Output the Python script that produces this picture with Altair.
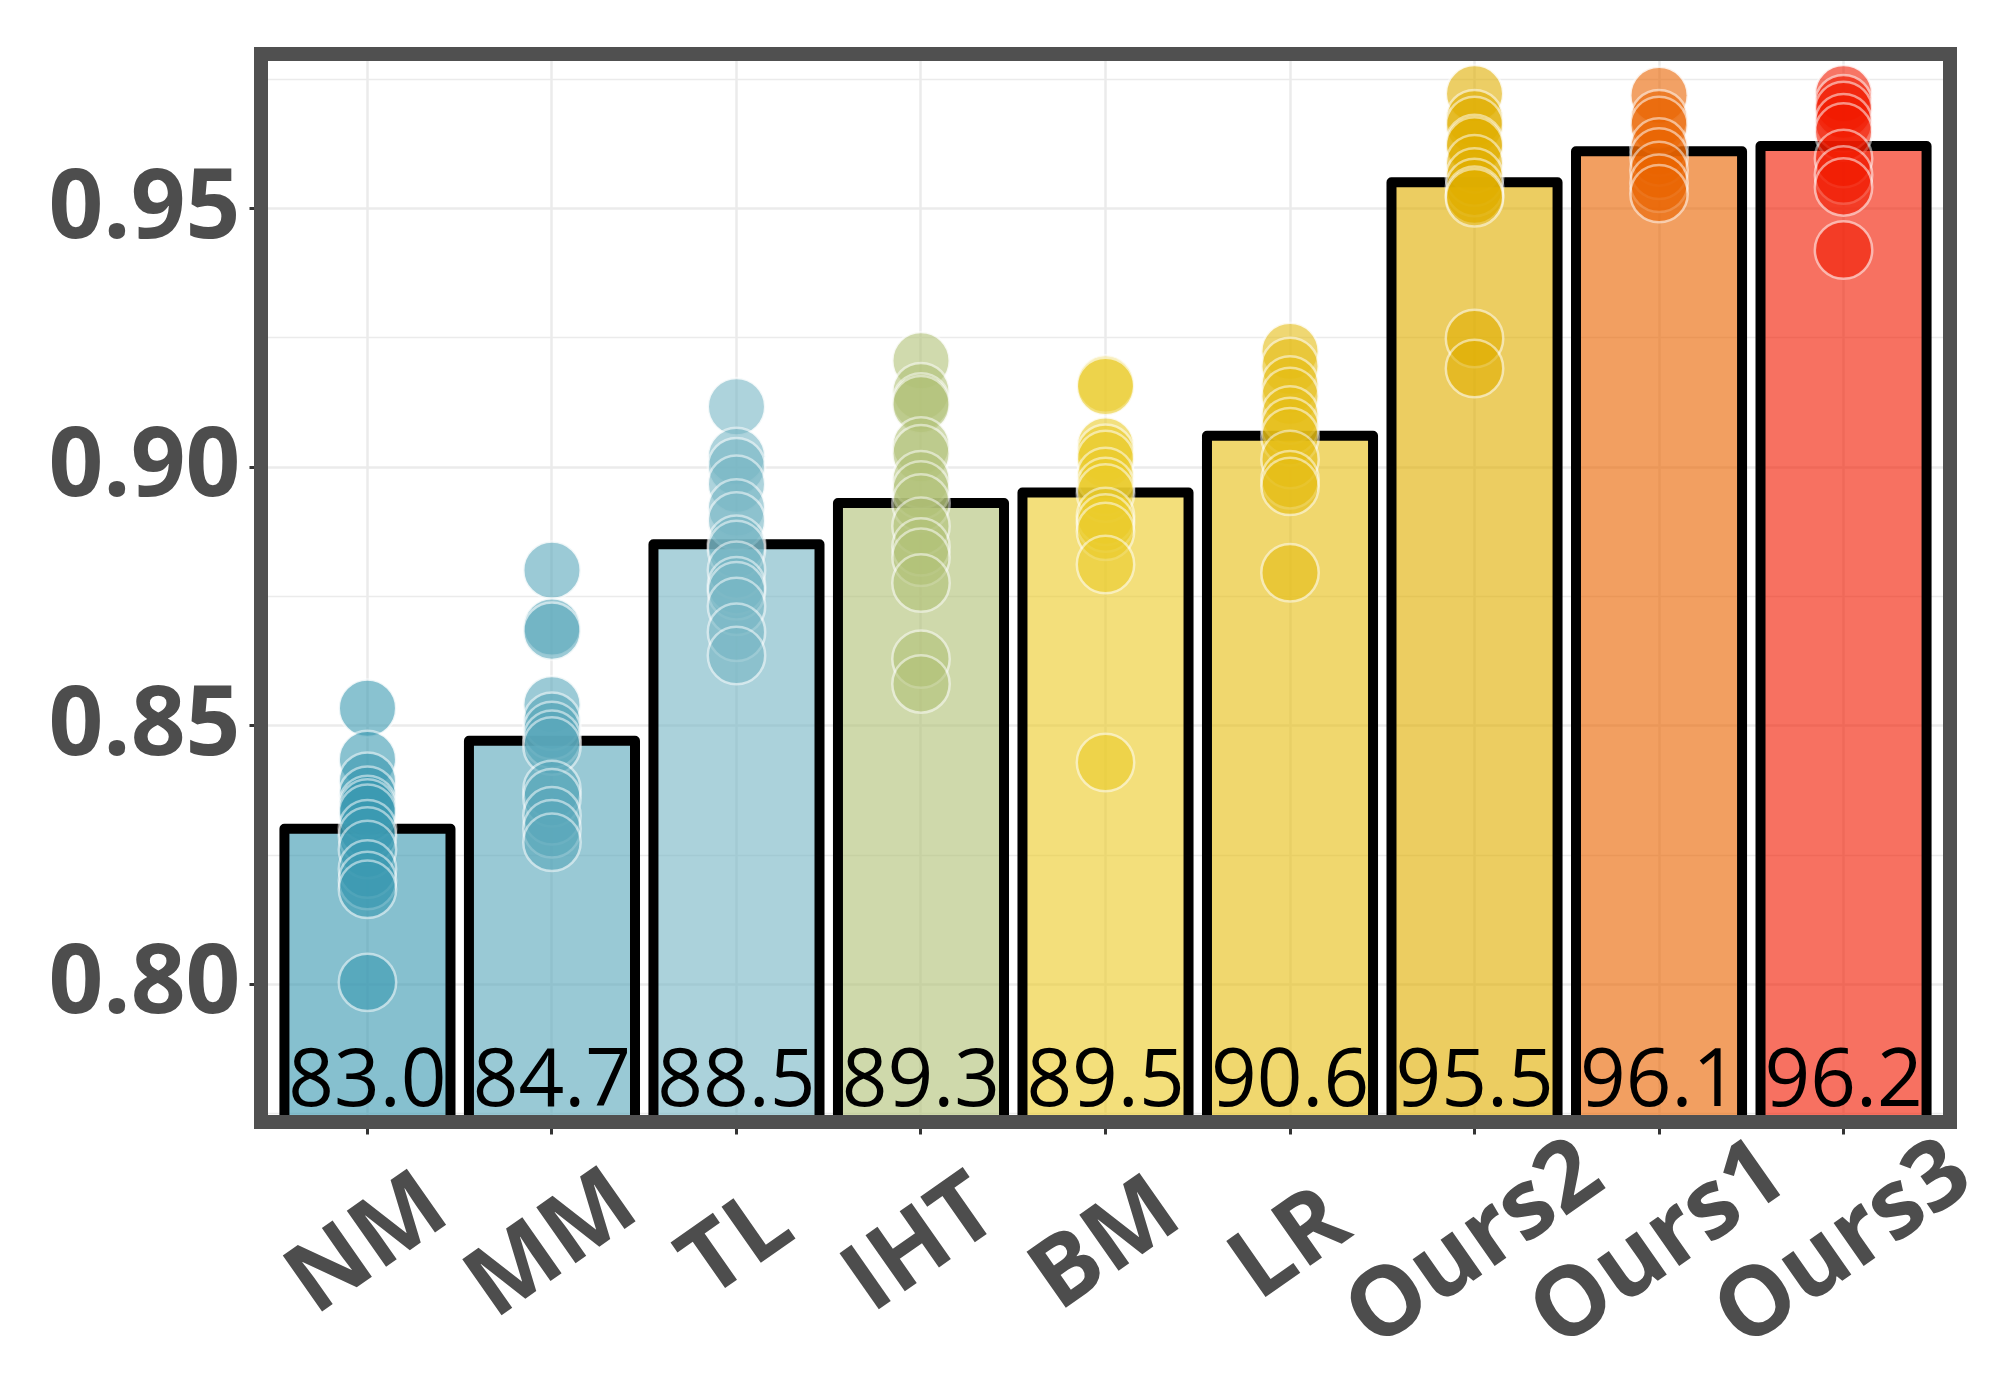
import altair as alt
import pandas as pd

methods = ["NM", "MM", "TL", "IHT", "BM", "LR", "Ours2", "Ours1", "Ours3"]
means = [83.0, 84.7, 88.5, 89.3, 89.5, 90.6, 95.5, 96.1, 96.2]
colors = ["#3B9AB2", "#5AA8BB", "#78B7C5", "#B2C278", "#EBCC2A",
          "#E6BE15", "#E1AF00", "#EA6400", "#F21A00"]

pts_NM = [0.8533, 0.8434, 0.8392, 0.8365, 0.8347, 0.8340, 0.8330, 0.8300,
          0.8286, 0.8260, 0.8222, 0.8200, 0.8183, 0.8003]
pts_MM = [0.8800, 0.8690, 0.8682, 0.8540, 0.8508, 0.8490, 0.8473, 0.8460,
          0.8376, 0.8360, 0.8325, 0.8300, 0.8274]
pts_TL = [0.9116, 0.9020, 0.9000, 0.8966, 0.8920, 0.8895, 0.8850, 0.8840,
          0.8800, 0.8770, 0.8760, 0.8730, 0.8680, 0.8635]
pts_IHT = [0.9205, 0.9145, 0.9125, 0.9120, 0.9040, 0.9025, 0.8975, 0.8955,
           0.8930, 0.8885, 0.8845, 0.8825, 0.8775, 0.8628, 0.8580]
pts_BM = [0.9160, 0.9155, 0.9040, 0.9026, 0.9014, 0.8981, 0.8962, 0.8949,
          0.8904, 0.8891, 0.8875, 0.8811, 0.8428]
pts_LR = [0.9223, 0.9194, 0.9158, 0.9136, 0.9100, 0.9078, 0.9058, 0.9014,
          0.8975, 0.8962, 0.8795]
pts_Ours2 = [0.9721, 0.9673, 0.9660, 0.9625, 0.9620, 0.9586, 0.9560, 0.9540,
             0.9525, 0.9520, 0.9248, 0.9190]
pts_Ours1 = [0.9718, 0.9673, 0.9660, 0.9618, 0.9599, 0.9573, 0.9548, 0.9528]
pts_Ours3 = [0.9721, 0.9702, 0.9689, 0.9665, 0.9647, 0.9596, 0.9564, 0.9541,
             0.9419]

y_ticks = [0.775, 0.80, 0.825, 0.85, 0.875, 0.90, 0.925, 0.95, 0.975]
y_domain = [0.7733, 0.9798]
label_level = 0.7764

all_pts = [pts_NM, pts_MM, pts_TL, pts_IHT, pts_BM, pts_LR,
           pts_Ours2, pts_Ours1, pts_Ours3]

df_bars = pd.DataFrame({"method": methods, "mean": means,
                        "bar": [m / 100 for m in means]})
rows = []
for m, vals in zip(methods, all_pts):
    for v in vals:
        rows.append({"method": m, "value": v})
df_pts = pd.DataFrame(rows)

W, H = 1689, 1068
GRAY = "#4D4D4D"
FONT = "Open Sans"

major = "round(datum.value*1000) % 50 == 0"

x_enc = alt.X(
    "method:N", sort=methods,
    scale=alt.Scale(domain=methods, paddingInner=0.1, paddingOuter=0.127),
    axis=alt.Axis(
        title=None, labelAngle=-35, labelAlign="center", labelBaseline="middle",
        labelPadding=110, labelFont=FONT, labelFontWeight="bold",
        labelFontSize=96, labelColor=GRAY, labelOverlap=False, labelLimit=2000,
        tickColor="#333333", tickSize=12, tickWidth=3,
        grid=True, gridColor="#EBEBEB", gridWidth=2.5, domain=False,
        bandPosition=0.5,
    ),
)
y_scale = alt.Scale(domain=y_domain, zero=False, nice=False)
y_axis = alt.Axis(
    title=None, values=y_ticks,
    labelExpr=f"{major} ? format(datum.value, '.2f') : ''",
    labelFont=FONT, labelFontWeight="bold", labelFontSize=96,
    labelColor=GRAY, labelPadding=9, labelOverlap=False, labelLimit=2000,
    tickColor="#333333", tickSize=12, tickWidth=3,
    tickOpacity={"condition": {"test": major, "value": 1}, "value": 0},
    grid=True, gridColor="#EBEBEB",
    gridWidth={"condition": {"test": major, "value": 2.5}, "value": 1.5},
    domain=False,
)
color_scale = alt.Scale(domain=methods, range=colors)

bars = alt.Chart(df_bars).mark_bar(
    clip=True, fillOpacity=0.62, stroke="black", strokeWidth=10,
    strokeJoin="round",
).encode(
    x=x_enc,
    y=alt.Y("bar:Q", scale=y_scale, axis=y_axis),
    fill=alt.Fill("method:N", scale=color_scale, legend=None),
)

points = alt.Chart(df_pts).mark_circle(
    size=3300, opacity=0.6, stroke="white", strokeWidth=2.5, strokeOpacity=0.85,
).encode(
    x=x_enc,
    y=alt.Y("value:Q", scale=y_scale, axis=y_axis),
    color=alt.Color("method:N", scale=color_scale, legend=None),
)

labels = alt.Chart(df_bars).mark_text(
    font=FONT, fontSize=80, color="black", baseline="alphabetic", align="center",
).encode(
    x=x_enc,
    y=alt.datum(label_level),
    text=alt.Text("mean:Q", format=".1f"),
)

frame = alt.Chart(alt.Data(values=[{"f": 1}])).mark_rect(
    filled=False, stroke="#505050", strokeWidth=14,
).encode(
    x=alt.value(0), x2=alt.value(W), y=alt.value(0), y2=alt.value(H),
)

chart = alt.layer(bars, points, labels, frame).properties(
    width=W, height=H,
    padding={"left": 253, "top": 46, "right": 42, "bottom": 270},
    autosize=alt.AutoSizeParams(type="none"),
    background="white",
).configure_view(stroke=None)

chart.save("out.html", embed_options={"renderer": "svg", "actions": False})
